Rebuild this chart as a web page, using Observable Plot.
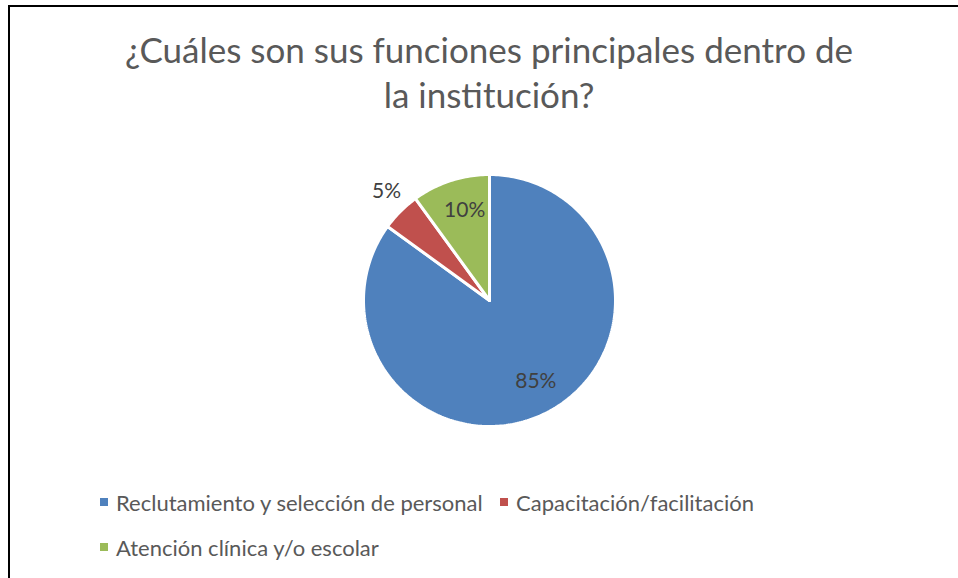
<!DOCTYPE html>
<html>
<head>
<meta charset="utf-8">
<script src="https://cdn.jsdelivr.net/npm/d3@7"></script>
<script src="https://cdn.jsdelivr.net/npm/@observablehq/plot@0.6"></script>
<style>
  html, body { margin: 0; padding: 0; background: #fff; }
  body { width: 958px; height: 578px; overflow: hidden; position: relative; font-family: Lato, "Open Sans", sans-serif; }
  #frame { position: absolute; left: 8px; top: 5px; width: 1200px; height: 1000px; border-top: 2px solid #000; border-left: 2px solid #000; }
  #chart { position: absolute; left: 0; top: 0; }
  #title { position: absolute; left: 39px; top: 27px; width: 900px; text-align: center; color: #595959; font-size: 35px; line-height: 45px; }
  .leg { position: absolute; color: #595959; font-size: 22px; white-space: nowrap; display: flex; align-items: center; }
  .sw { display: inline-block; width: 8px; height: 8px; margin-right: 8px; }
</style>
</head>
<body>
<div id="frame"></div>
<div id="chart"></div>
<div id="title">¿Cuáles son sus funciones principales dentro de<br>la institución?</div>
<div id="legend"></div>
<script>
const categories = ["Reclutamiento y selección de personal", "Capacitación/facilitación", "Atención clínica y/o escolar"];
const values = [85, 5, 10];
const labels = ["85%", "5%", "10%"];
const colors = ["#4F81BD", "#C0504D", "#9BBB59"];

const pie = d3.pie().sort(null).value(d => d)(values);

// Build slice outlines in unit-circle coordinates (angle clockwise from 12 o'clock)
const slicePts = [];
pie.forEach((p, i) => {
  const n = Math.max(4, Math.ceil((p.endAngle - p.startAngle) / (Math.PI / 180)));
  slicePts.push({cat: categories[i], x: 0, y: 0});
  for (let k = 0; k <= n; k++) {
    const a = p.startAngle + (p.endAngle - p.startAngle) * k / n;
    slicePts.push({cat: categories[i], x: Math.sin(a), y: Math.cos(a)});
  }
  slicePts.push({cat: categories[i], x: 0, y: 0});
});

const labelPts = pie.map((p, i) => {
  const a = (p.startAngle + p.endAngle) / 2;
  const r = values[i] < 8 ? 1.2 : 0.74;
  return {label: labels[i], x: Math.sin(a) * r, y: Math.cos(a) * r};
});

const cx = 489, cy = 300, R = 126;
const chart = Plot.plot({
  width: 958,
  height: 578,
  margin: 0,
  x: {domain: [-1, 1], range: [cx - R, cx + R], axis: null},
  y: {domain: [-1, 1], range: [cy + R, cy - R], axis: null},
  color: {domain: categories, range: colors},
  style: {background: "transparent", overflow: "visible"},
  marks: [
    Plot.line(slicePts, {x: "x", y: "y", z: "cat", fill: "cat", stroke: "#fff", strokeWidth: 3, strokeLinejoin: "miter"}),
    Plot.text(labelPts, {x: "x", y: "y", text: "label", fill: "#404040", fontSize: 21, fontFamily: "Lato, sans-serif", dx: 4, dy: -2})
  ]
});
document.getElementById("chart").appendChild(chart);

// Legend
const legPos = [[100, 502], [500, 502], [100, 547]];
const leg = document.getElementById("legend");
categories.forEach((c, i) => {
  const d = document.createElement("div");
  d.className = "leg";
  d.style.left = legPos[i][0] + "px";
  d.style.top = (legPos[i][1] - 13) + "px";
  d.style.height = "26px";
  d.innerHTML = `<span class="sw" style="background:${colors[i]}"></span>${c}`;
  leg.appendChild(d);
});
</script>
</body>
</html>
